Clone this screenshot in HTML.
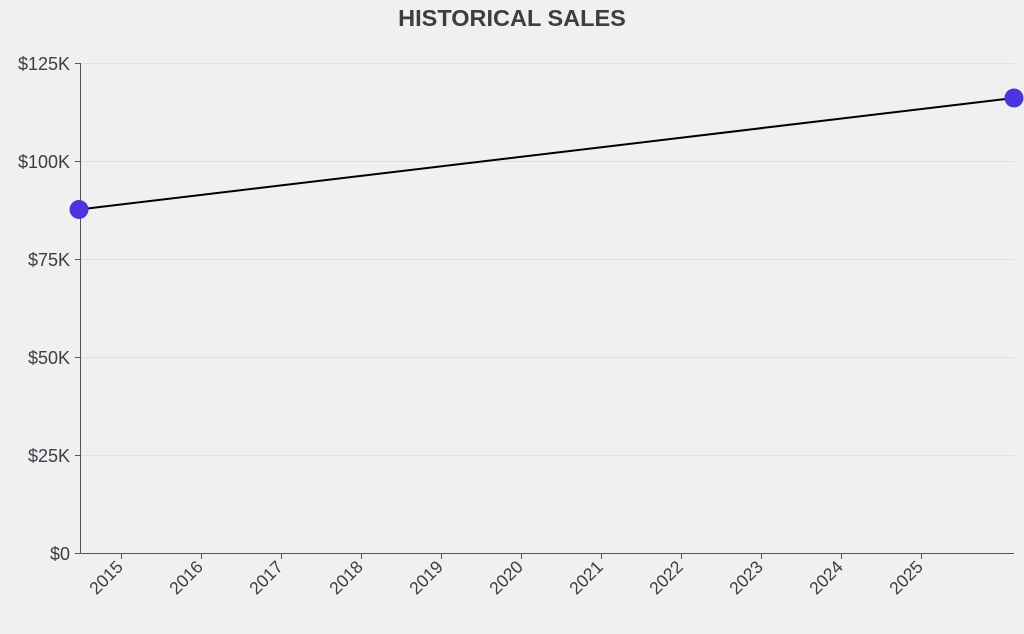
<!DOCTYPE html>
<html><head><style>html,body{margin:0;background:#f0f0f0;overflow:hidden;width:1024px;height:634px}svg{display:block}</style></head><body>
<svg width="1024" height="634" xmlns="http://www.w3.org/2000/svg" font-family="Liberation Sans, sans-serif">
<rect width="1024" height="634" fill="#f0f0f0"/>
<text x="512" y="26" text-anchor="middle" font-size="23.5" font-weight="bold" fill="#3a3f44">HISTORICAL SALES</text>
<g stroke="#e0e0e0" stroke-width="1">
<line x1="80" x2="1014" y1="63.5" y2="63.5"/><line x1="80" x2="1014" y1="161.5" y2="161.5"/><line x1="80" x2="1014" y1="259.5" y2="259.5"/><line x1="80" x2="1014" y1="357.5" y2="357.5"/><line x1="80" x2="1014" y1="455.5" y2="455.5"/>
</g>
<g stroke="#555" stroke-width="1">
<line x1="80.5" y1="63" x2="80.5" y2="553.5"/><line x1="80" y1="553.5" x2="1014" y2="553.5"/>
<line x1="75" x2="80" y1="63.5" y2="63.5"/><line x1="75" x2="80" y1="161.5" y2="161.5"/><line x1="75" x2="80" y1="259.5" y2="259.5"/><line x1="75" x2="80" y1="357.5" y2="357.5"/><line x1="75" x2="80" y1="455.5" y2="455.5"/><line x1="75" x2="80" y1="553.5" y2="553.5"/>
<line x1="121.5" x2="121.5" y1="553" y2="559"/><line x1="201.5" x2="201.5" y1="553" y2="559"/><line x1="281.5" x2="281.5" y1="553" y2="559"/><line x1="361.5" x2="361.5" y1="553" y2="559"/><line x1="441.5" x2="441.5" y1="553" y2="559"/><line x1="521.5" x2="521.5" y1="553" y2="559"/><line x1="601.5" x2="601.5" y1="553" y2="559"/><line x1="681.5" x2="681.5" y1="553" y2="559"/><line x1="761.5" x2="761.5" y1="553" y2="559"/><line x1="841.5" x2="841.5" y1="553" y2="559"/><line x1="921.5" x2="921.5" y1="553" y2="559"/>
</g>
<g font-size="18" fill="#3a3f44" text-anchor="end">
<text x="70" y="70">$125K</text><text x="70" y="168">$100K</text><text x="70" y="266">$75K</text><text x="70" y="364">$50K</text><text x="70" y="462">$25K</text><text x="70" y="560">$0</text>
</g>
<g font-size="17.5" fill="#3a3f44" text-anchor="end">
<text transform="translate(124,568) rotate(-45)">2015</text>
<text transform="translate(204,568) rotate(-45)">2016</text>
<text transform="translate(284,568) rotate(-45)">2017</text>
<text transform="translate(364,568) rotate(-45)">2018</text>
<text transform="translate(444,568) rotate(-45)">2019</text>
<text transform="translate(524,568) rotate(-45)">2020</text>
<text transform="translate(604,568) rotate(-45)">2021</text>
<text transform="translate(684,568) rotate(-45)">2022</text>
<text transform="translate(764,568) rotate(-45)">2023</text>
<text transform="translate(844,568) rotate(-45)">2024</text>
<text transform="translate(924,568) rotate(-45)">2025</text>
</g>
<line x1="79" y1="209.5" x2="1014" y2="98" stroke="#000" stroke-width="2"/>
<circle cx="79" cy="209.5" r="9.5" fill="#4a35e0"/>
<circle cx="1014" cy="98" r="9.5" fill="#4a35e0"/>
</svg>
</body></html>
